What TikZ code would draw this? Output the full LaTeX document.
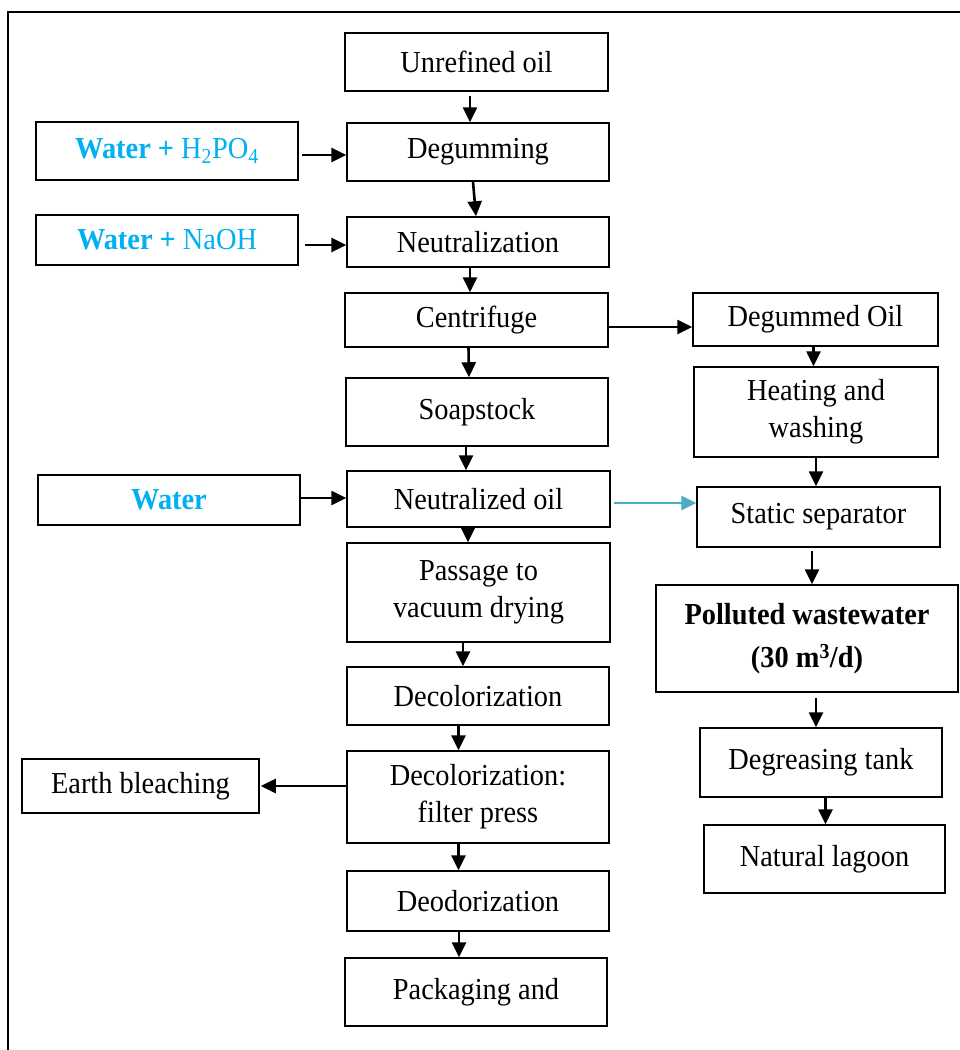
\documentclass[tikz,border=0pt]{standalone}
\usepackage{fontspec}
\setmainfont{Liberation Serif}[FakeStretch=0.93]
\usetikzlibrary{arrows.meta}
\definecolor{wblue}{RGB}{0,176,240}
\definecolor{aqua}{RGB}{75,172,198}
\begin{document}
\begin{tikzpicture}[x=1pt,y=-1pt,
  box/.style={draw, line width=1.5pt, inner sep=0pt, align=center,
    font=\fontsize{30.5}{37}\selectfont},
  arr/.style={line width=2.6pt, -{Triangle[length=15pt,width=14pt]}},
  carr/.style={arr, draw=aqua, -{Triangle[length=15pt,width=14pt,fill=aqua]}}]
\useasboundingbox (0,0) rectangle (959,1050);
\draw[line width=1.6pt] (8,1055) -- (8,12) -- (965,12);
% main column and side boxes
\node[box, minimum width=263pt, minimum height=58pt] (unref) at (476.5,62) {Unrefined oil};
\node[box, minimum width=262pt, minimum height=58pt] (degum) at (478,152) {Degumming};
\node[box, minimum width=262pt, minimum height=58pt] (wh2) at (167,151) {\textcolor{wblue}{\textbf{Water +} H\textsubscript{2}PO\textsubscript{4}}};
\node[box, minimum width=262pt, minimum height=50pt] (wnaoh) at (167,240) {\textcolor{wblue}{\textbf{Water +} NaOH}};
\node[box, minimum width=262pt, minimum height=50pt] (neutr) at (478,242) {Neutralization};
\node[box, minimum width=263pt, minimum height=54pt] (centr) at (476.5,320) {Centrifuge};
\node[box, minimum width=245pt, minimum height=53pt] (degoil) at (815.5,319.5) {Degummed Oil};
\node[box, minimum width=262pt, minimum height=68pt] (soap) at (477,412) {Soapstock};
\node[box, minimum width=244pt, minimum height=90pt] (heat) at (816,412) {Heating and\\washing};
\node[box, minimum width=262pt, minimum height=50pt] (water) at (169,500) {\textcolor{wblue}{\textbf{Water}}};
\node[box, minimum width=263pt, minimum height=56pt] (noil) at (478.5,499) {Neutralized oil};
\node[box, minimum width=243pt, minimum height=60pt] (static) at (818.5,517) {Static separator};
\node[box, minimum width=263pt, minimum height=99pt] (passage) at (478.5,592.5) {Passage to\\vacuum drying};
\node[box, minimum width=302pt, minimum height=107pt] (polluted) at (807,638.5) {\textbf{Polluted wastewater}\\[6pt]\textbf{(30 m\textsuperscript{3}/d)}};
\node[box, minimum width=262pt, minimum height=58pt] (decol) at (478,696) {Decolorization};
\node[box, minimum width=262pt, minimum height=92pt] (filter) at (478,797) {Decolorization:\\filter press};
\node[box, minimum width=237pt, minimum height=54pt] (earth) at (140.5,786) {Earth bleaching};
\node[box, minimum width=242pt, minimum height=69pt] (degrease) at (821,762.5) {Degreasing tank};
\node[box, minimum width=241pt, minimum height=68pt] (lagoon) at (824.5,859) {Natural lagoon};
\node[box, minimum width=262pt, minimum height=60pt] (deodor) at (478,901) {Deodorization};
\node[box, minimum width=262pt, minimum height=68pt] (pack) at (476,992) {Packaging and};
% arrows
\draw[arr] ([xshift=-6.5pt,yshift=-4pt]unref.south) -- ([xshift=-8pt]degum.north);
\draw[arr] ([xshift=-5pt]degum.south) -- ([xshift=-2pt]neutr.north);
\draw[arr] ([xshift=3pt,yshift=-4pt]wh2.east) -- ([yshift=-3pt]degum.west);
\draw[arr] ([xshift=6pt,yshift=-5pt]wnaoh.east) -- ([yshift=-3pt]neutr.west);
\draw[arr] ([xshift=-8pt]neutr.south) -- ([xshift=-6.5pt]centr.north);
\draw[arr] ([yshift=-7pt]centr.east) -- ([yshift=-7.5pt]degoil.west);
\draw[arr] ([xshift=-8pt]centr.south) -- ([xshift=-8pt]soap.north);
\draw[arr] ([xshift=-2pt]degoil.south) -- ([xshift=-2.5pt]heat.north);
\draw[arr] ([xshift=-11pt]soap.south) -- ([xshift=-12.5pt]noil.north);
\draw[arr] ([xshift=0pt]heat.south) -- ([xshift=-2.5pt]static.north);
\draw[arr] ([yshift=2pt]water.east) -- ([yshift=1pt]noil.west);
\draw[carr] ([xshift=3pt,yshift=-4pt]noil.east) -- ([yshift=14pt]static.west);
\draw[arr] ([xshift=-10.5pt]noil.south) -- ([xshift=-10.5pt]passage.north);
\draw[arr] ([xshift=-6.5pt,yshift=-3pt]static.south) -- ([xshift=5pt]polluted.north);
\draw[arr] ([xshift=-15.5pt]passage.south) -- ([xshift=-15pt]decol.north);
\draw[arr] ([xshift=9pt,yshift=-5pt]polluted.south) -- ([xshift=-5pt]degrease.north);
\draw[arr] ([xshift=-19.5pt]decol.south) -- ([xshift=-19.5pt]filter.north);
\draw[arr] ([yshift=11pt]filter.west) -- ([xshift=1pt]earth.east);
\draw[arr] ([xshift=4.5pt]degrease.south) -- ([xshift=1pt]lagoon.north);
\draw[arr] ([xshift=-19.5pt]filter.south) -- ([xshift=-19.5pt]deodor.north);
\draw[arr] ([xshift=-19pt]deodor.south) -- ([xshift=-17pt]pack.north);
\end{tikzpicture}
\end{document}
